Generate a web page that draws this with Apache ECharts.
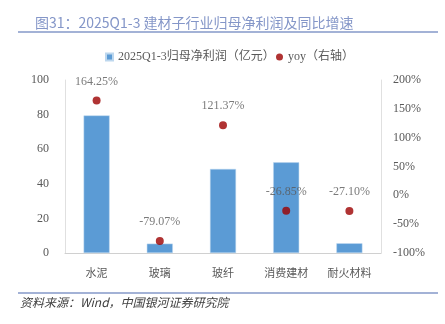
<!DOCTYPE html>
<html><head><meta charset="utf-8">
<script src="https://cdn.jsdelivr.net/npm/echarts@6/dist/echarts.min.js"></script>
<style>html,body{margin:0;padding:0;background:#fff}#c{width:445px;height:324px}</style>
</head><body><div id="c"></div>
<script>
var categories = ['水泥','玻璃','玻纤','消费建材','耐火材料'];
var profit = [79.5, 5.4, 48.6, 52.4, 5.6];
var yoy = [164.25, -79.07, 121.37, -26.85, -27.10];
var leftTicks = {min:0, max:100, interval:20};
var rightTicks = {min:-100, max:200, interval:50};

var serif = '"Liberation Serif","Noto Sans CJK SC",serif';
var cjk = '"Noto Sans CJK SC",sans-serif';
var chart = echarts.init(document.getElementById('c'));
var legendBase = {top:51, padding:0, itemWidth:7, itemHeight:7, itemGap:0,
    textStyle:{fontSize:12, color:'#595959', fontFamily:serif}};
chart.setOption({
  animation:false,
  title:{text:'图31：2025Q1-3 建材子行业归母净利润及同比增速', left:30, top:11,
    textStyle:{fontSize:14, fontWeight:'normal', color:'#8496C8', fontFamily:cjk}},
  graphic:[
    {type:'line', shape:{x1:18,y1:32,x2:438,y2:32}, style:{stroke:'#8498C8', lineWidth:1.5}},
    {type:'line', shape:{x1:18,y1:293,x2:438,y2:293}, style:{stroke:'#8498C8', lineWidth:1.5}},
    {type:'text', left:20, top:296, style:{text:'资料来源：Wind，中国银河证券研究院', fontSize:12, fontStyle:'italic', fill:'#404040', fontFamily:cjk}}
  ],
  legend:[
    Object.assign({left:105, data:[{name:'2025Q1-3归母净利润（亿元）', icon:'rect'}]}, legendBase),
    Object.assign({left:276, data:[{name:'yoy（右轴）', icon:'circle'}]}, legendBase)
  ],
  grid:{left:65, right:64, top:80, bottom:71},
  xAxis:{type:'category', data:categories,
    axisLine:{lineStyle:{color:'#D0D0D0'}}, axisTick:{show:false},
    axisLabel:{color:'#595959', fontSize:11, margin:14, fontFamily:cjk}},
  yAxis:[
    {type:'value', min:leftTicks.min, max:leftTicks.max, interval:leftTicks.interval,
      splitLine:{show:false}, axisLine:{show:true, lineStyle:{color:'#E0E0E0'}}, axisTick:{show:false},
      axisLabel:{color:'#595959', fontSize:12, margin:16, fontFamily:serif}},
    {type:'value', min:rightTicks.min, max:rightTicks.max, interval:rightTicks.interval,
      splitLine:{show:false}, axisLine:{show:true, lineStyle:{color:'#E0E0E0'}}, axisTick:{show:false},
      axisLabel:{color:'#595959', fontSize:12, margin:12, fontFamily:serif, formatter:'{value}%'}}
  ],
  series:[
    {name:'2025Q1-3归母净利润（亿元）', type:'bar', data:profit, barWidth:26,
      itemStyle:{color:'#5B9BD5', borderColor:'#BDD7EE', borderWidth:0.5}},
    {name:'yoy（右轴）', type:'scatter', yAxisIndex:1, data:yoy, symbolSize:8,
      itemStyle:{color:'#9C0000'},
      label:{show:true, position:'top', distance:9, color:'#595959', fontSize:12, fontFamily:serif,
        formatter:function(p){return p.value.toFixed(2)+'%';}}}
  ]
});
</script></body></html>
